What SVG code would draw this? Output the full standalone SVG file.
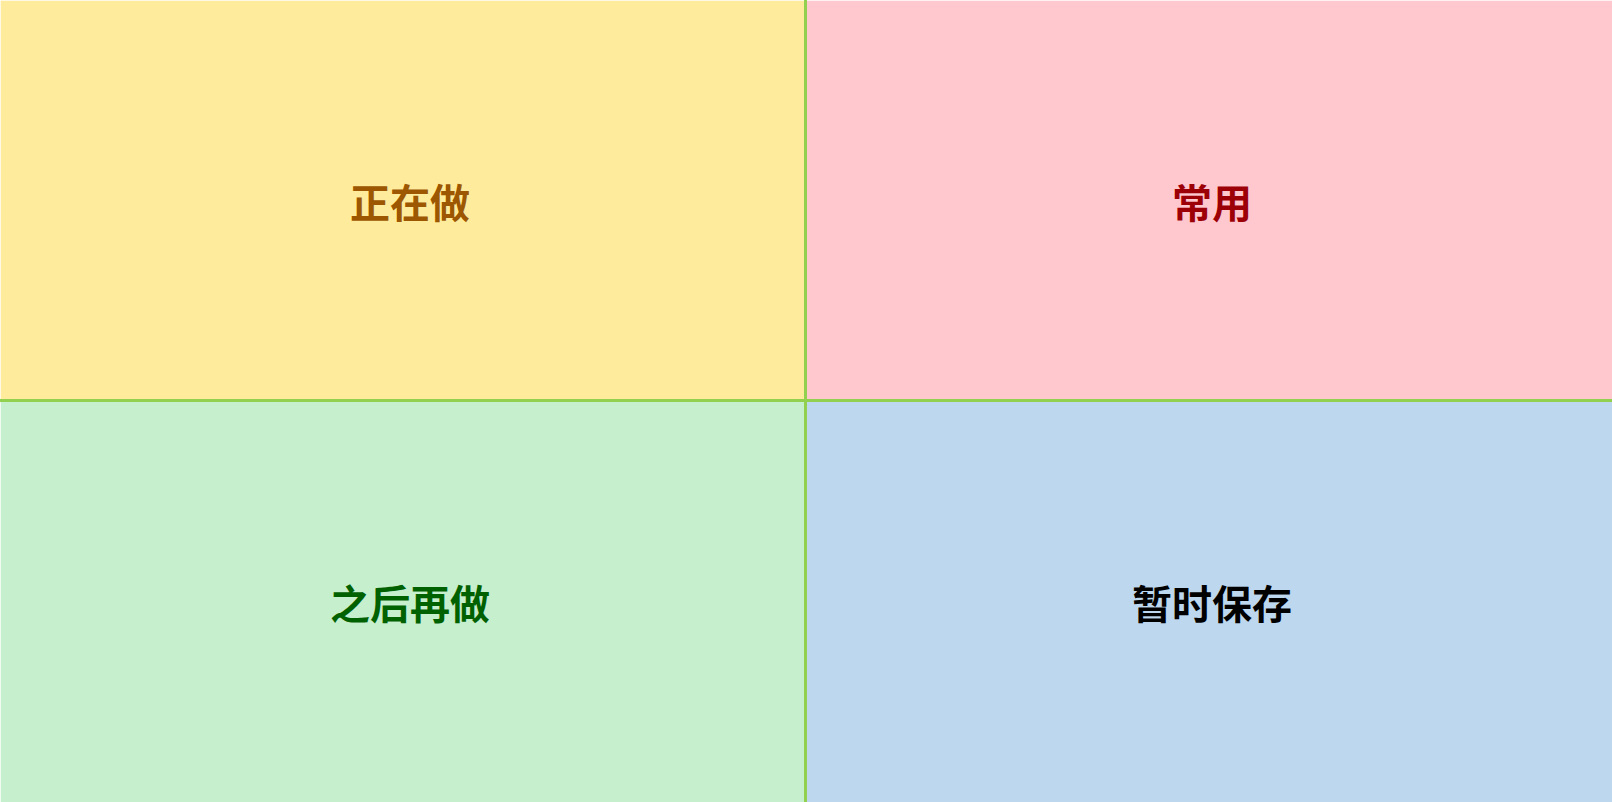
<svg xmlns="http://www.w3.org/2000/svg" width="1612" height="802" viewBox="0 0 1612 802">
<style>
.q{stroke:#ffffff;stroke-opacity:0.45;stroke-width:1}
.t{font-family:"Noto Sans CJK SC","Noto Sans",sans-serif;font-size:40px;font-weight:bold;text-anchor:middle;dominant-baseline:central}
.div{stroke:#92D050;stroke-width:3;fill:none}
</style>
<g id="doing">
<rect class="q" x="0.5" y="0.5" width="805" height="400" fill="#FFEB9C"/>
<text class="t" x="410" y="201" fill="#9C5700">正在做</text>
</g>
<g id="common">
<rect class="q" x="805.5" y="0.5" width="807" height="400" fill="#FFC7CE"/>
<text class="t" x="1212" y="201" fill="#9C0006">常用</text>
</g>
<g id="later">
<rect class="q" x="0.5" y="400.5" width="805" height="402" fill="#C6EFCE"/>
<text class="t" x="410" y="602" fill="#006100">之后再做</text>
</g>
<g id="temp">
<rect class="q" x="805.5" y="400.5" width="807" height="402" fill="#BDD7EE"/>
<text class="t" x="1212" y="602" fill="#000000">暂时保存</text>
</g>
<g id="connectors">
<line class="div" x1="805.5" y1="0" x2="805.5" y2="802"/>
<line class="div" x1="0" y1="400.5" x2="1612" y2="400.5"/>
</g>
</svg>
